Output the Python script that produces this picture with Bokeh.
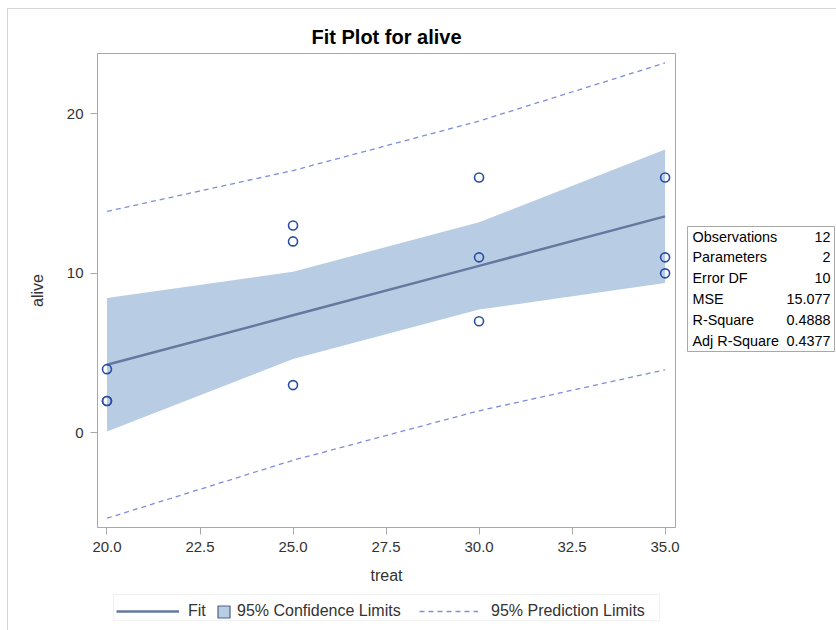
from bokeh.plotting import figure
from bokeh.models import (Range1d, Legend, LegendItem, BoxAnnotation,
                          ColumnDataSource, NumeralTickFormatter, FixedTicker)
from bokeh.layouts import row, column
from bokeh.embed import file_html
from bokeh.resources import INLINE

# ---- data ----
treat = [20, 20, 20, 25, 25, 25, 30, 30, 30, 35, 35, 35]
alive = [4, 2, 2, 13, 12, 3, 16, 11, 7, 16, 11, 10]

fit_x = [20, 25, 30, 35]
fit_y = [4.27, 7.37, 10.47, 13.57]
cl_lower = [0.09, 4.63, 7.73, 9.39]
cl_upper = [8.45, 10.10, 13.20, 17.75]
pl_lower = [-5.34, -1.71, 1.39, 3.96]
pl_upper = [13.88, 16.44, 19.54, 23.18]

x_ticks = [20, 22.5, 25, 27.5, 30, 32.5, 35]
y_ticks = [0, 10, 20]

stat_names = ["Observations", "Parameters", "Error DF", "MSE", "R-Square", "Adj R-Square"]
stat_values = ["12", "2", "10", "15.077", "0.4888", "0.4377"]

FONT = "Liberation Sans"
AXIS_COL = "#a8a8a8"
TEXT_COL = "#333333"
BAND_COL = "#b8cce4"
FIT_COL = "#65799f"
PL_COL = "#7f8ed6"
PT_COL = "#2a4ea6"

# ---------------- main plot ----------------
p = figure(width=675, height=581, output_backend="svg", toolbar_location=None,
           x_range=Range1d(19.745, 35.28), y_range=Range1d(-5.92, 23.77),
           min_border_left=89, min_border_right=8, min_border_top=44,
           min_border_bottom=63, title="Fit Plot for alive")

p.title.align = "center"
p.title.text_font = FONT
p.title.text_font_size = "20px"
p.title.text_font_style = "bold"
p.title.text_color = "#000000"
p.title.standoff = 12

p.xgrid.visible = False
p.ygrid.visible = False
p.outline_line_color = AXIS_COL
p.background_fill_color = "white"
p.border_fill_color = "white"

for ax in (p.xaxis[0], p.yaxis[0]):
    ax.axis_line_color = AXIS_COL
    ax.major_tick_line_color = AXIS_COL
    ax.major_tick_out = 7
    ax.major_tick_in = 0
    ax.minor_tick_line_color = None
    ax.major_label_text_font = FONT
    ax.major_label_text_font_size = "15px"
    ax.major_label_text_color = TEXT_COL
    ax.axis_label_text_font = FONT
    ax.axis_label_text_font_size = "16px"
    ax.axis_label_text_font_style = "normal"
    ax.axis_label_text_color = TEXT_COL
    ax.major_label_standoff = 7

p.xaxis.ticker = FixedTicker(ticks=x_ticks)
p.xaxis.formatter = NumeralTickFormatter(format="0.0")
p.yaxis.ticker = FixedTicker(ticks=y_ticks)
p.xaxis.axis_label = "treat"
p.yaxis.axis_label = "alive"
p.xaxis.axis_label_standoff = 12
p.yaxis.axis_label_standoff = 18

src = ColumnDataSource(dict(x=fit_x, fit=fit_y, cll=cl_lower, clu=cl_upper,
                            pll=pl_lower, plu=pl_upper))

p.varea(x="x", y1="cll", y2="clu", source=src, fill_color=BAND_COL)
p.line(x="x", y="fit", source=src, line_color=FIT_COL, line_width=2.5)
p.line(x="x", y="plu", source=src, line_color=PL_COL, line_width=1.3, line_dash="5 4")
p.line(x="x", y="pll", source=src, line_color=PL_COL, line_width=1.3, line_dash="5 4")
p.scatter(x=treat, y=alive, marker="circle", size=9, fill_color=None,
          line_color=PT_COL, line_width=1.6)

# ---------------- legend strip (below) ----------------
# its frame is aligned with the main plot frame (page x 97..675)
leg = figure(width=675, height=40, output_backend="svg", toolbar_location=None,
             x_range=Range1d(0, 1), y_range=Range1d(0, 1),
             x_axis_type=None, y_axis_type=None,
             min_border=0, min_border_left=0, min_border_right=0,
             min_border_top=0, min_border_bottom=0)
leg.outline_line_color = None
leg.xgrid.visible = False
leg.ygrid.visible = False

# renderers that only serve as legend glyphs (their data lies outside this strip's range)
r_fit = leg.line(x="x", y="fit", source=src, line_color=FIT_COL, line_width=2.5)
r_sw = leg.quad(left="x", right="x", top="clu", bottom="cll", source=src,
                fill_color=BAND_COL, line_color="#4f5f85", line_width=1.2)
r_pl = leg.line(x="x", y="plu", source=src, line_color=PL_COL, line_width=1.3,
                line_dash="5 4")

FRAME_LEFT = 97
LEG_BOTTOM = 10

def mk_legend(label, rend, x, gw, gh, standoff):
    lg = Legend(items=[LegendItem(label=label, renderers=[rend])],
                location=(x, LEG_BOTTOM), orientation="horizontal",
                glyph_width=gw, glyph_height=gh, label_standoff=standoff,
                padding=4, margin=0, spacing=0,
                label_text_font=FONT, label_text_font_size="16px",
                label_text_color=TEXT_COL, border_line_color=None,
                background_fill_alpha=0)
    leg.add_layout(lg, "center")

mk_legend("Fit", r_fit, 120 - 4 - FRAME_LEFT, 63, 18, 9)
mk_legend("95% Confidence Limits", r_sw, 220 - 4 - FRAME_LEFT, 15, 15, 6)
mk_legend("95% Prediction Limits", r_pl, 423 - 4 - FRAME_LEFT, 59, 18, 13)

leg.add_layout(BoxAnnotation(left=113 - FRAME_LEFT, right=659 - FRAME_LEFT,
                             top=LEG_BOTTOM + 26, bottom=LEG_BOTTOM,
                             left_units="screen", right_units="screen",
                             top_units="screen", bottom_units="screen",
                             fill_alpha=0, line_color="#cfcfcf", line_width=1))

# ---------------- statistics table (right) ----------------
tab = figure(width=153, height=621, output_backend="svg", toolbar_location=None,
             x_range=Range1d(0, 153), y_range=Range1d(621, 0),
             x_axis_type=None, y_axis_type=None,
             min_border=0, min_border_left=0, min_border_right=0,
             min_border_top=0, min_border_bottom=0)
tab.outline_line_color = None
tab.xgrid.visible = False
tab.ygrid.visible = False

# page coordinates -> table figure: x - 683, y - 9
tab.quad(left=[687 - 683], right=[834 - 683], top=[226 - 9], bottom=[351 - 9],
         fill_color="white", line_color="#a8a8a8", line_width=1)
row_y = [236 - 9 + 20.8 * i for i in range(len(stat_names))]
tsrc = ColumnDataSource(dict(y=row_y, name=stat_names, val=stat_values,
                             xl=[692 - 683] * len(stat_names),
                             xr=[830 - 683] * len(stat_names)))
tab.text(x="xl", y="y", text="name", source=tsrc, text_font={"value": FONT},
         text_font_size="14.4px", text_color="#000000", text_baseline="middle",
         text_align="left")
tab.text(x="xr", y="y", text="val", source=tsrc, text_font={"value": FONT},
         text_font_size="14.4px", text_color="#000000", text_baseline="middle",
         text_align="right")

root = row(column(p, leg, spacing=0), tab, spacing=0)
root.styles = {"margin-left": "7px", "margin-top": "8px",
               "border-left": "1px solid #d6d6d6", "border-top": "1px solid #d6d6d6"}

open("out.html", "w").write(file_html(root, INLINE))
